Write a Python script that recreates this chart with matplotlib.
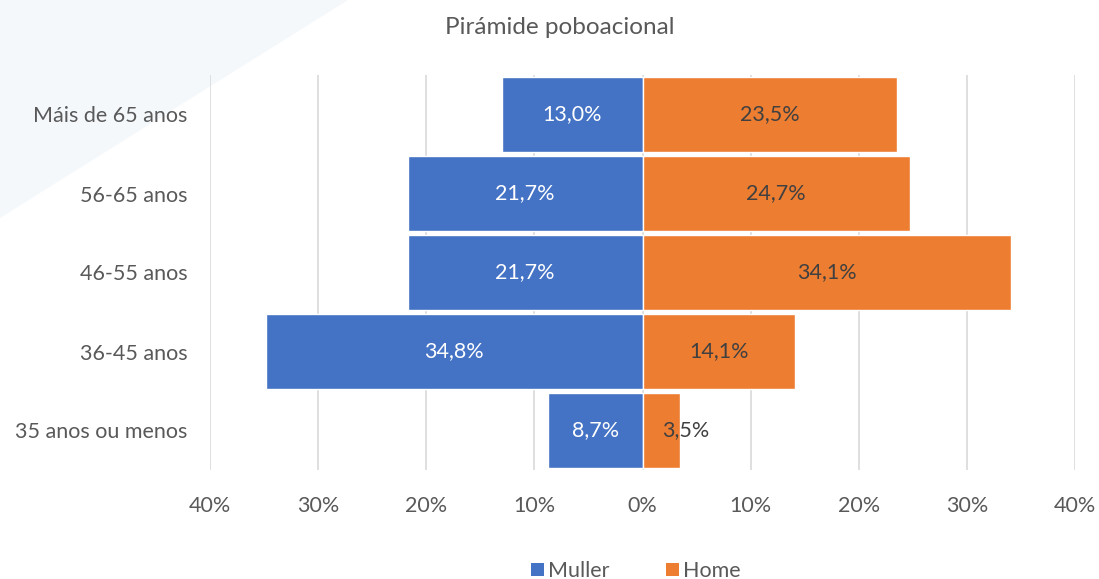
import matplotlib
matplotlib.use("Agg")
import matplotlib.pyplot as plt
from matplotlib.patches import Polygon, Patch
from matplotlib.ticker import FuncFormatter

plt.rcParams['font.family'] = ['Lato', 'DejaVu Sans']

categories = ["35 anos ou menos", "36-45 anos", "46-55 anos", "56-65 anos", "Máis de 65 anos"]
muller = [8.7, 34.8, 21.7, 21.7, 13.0]
home = [3.5, 14.1, 34.1, 24.7, 23.5]
series_names = ["Muller", "Home"]
title = "Pirámide poboacional"
xticks = [-40, -30, -20, -10, 0, 10, 20, 30, 40]

blue = "#4472C4"
orange = "#ED7D31"
txt = "#595959"

fig = plt.figure(figsize=(10.99, 5.79), dpi=100)
# background triangle
tri = Polygon([[0, 1], [348/1099, 1], [0, 1-218/579]], closed=True,
              transform=fig.transFigure, facecolor="#F4F8FB", edgecolor="none", zorder=-5)
fig.patches.append(tri)

ax = fig.add_axes([210/1099, 1-470/579, 865/1099, 395/579])
ax.set_zorder(2)
ax.patch.set_alpha(0)
y = list(range(len(categories)))
ax.barh(y, [-v for v in muller], height=0.95, color=blue, edgecolor="white", linewidth=1.0, zorder=3)
ax.barh(y, home, height=0.95, color=orange, edgecolor="white", linewidth=1.0, zorder=3)

def fmt(v):
    return f"{v:.1f}%".replace(".", ",")

fs = 15.5
for i, v in enumerate(muller):
    ax.text(-v/2, i, fmt(v), ha="center", va="center", color="white", fontsize=fs, zorder=5)
for i, v in enumerate(home):
    ax.text(max(v/2, 4.0), i, fmt(v), ha="center", va="center", color="#404040", fontsize=fs, zorder=5)

ax.set_xlim(-40, 40)
ax.set_ylim(-0.5, 4.5)
ax.set_xticks(xticks)
ax.xaxis.set_major_formatter(FuncFormatter(lambda x, p: f"{abs(int(round(x)))}%"))
ax.set_yticks(y)
ax.set_yticklabels(categories)
ax.tick_params(axis="both", length=0, labelsize=fs, colors=txt)
ax.tick_params(axis="x", pad=19)
ax.tick_params(axis="y", pad=16)
ax.grid(axis="x", color="#D9D9D9", linewidth=1.2, zorder=0)
ax.set_axisbelow(True)
for s in ax.spines.values():
    s.set_visible(False)

fig.text(560/1099, 1-28/579, title, ha="center", va="center", fontsize=17.5, color=txt)

handles = [Patch(facecolor=blue), Patch(facecolor=orange)]
fig.legend(handles, series_names, loc="center", bbox_to_anchor=(636/1099, 1-571/579),
           ncol=2, frameon=False, fontsize=fs, labelcolor=txt, handlelength=0.6,
           handleheight=0.6, handletextpad=0.2, columnspacing=2.6)

fig.savefig("out.png", dpi=100)
